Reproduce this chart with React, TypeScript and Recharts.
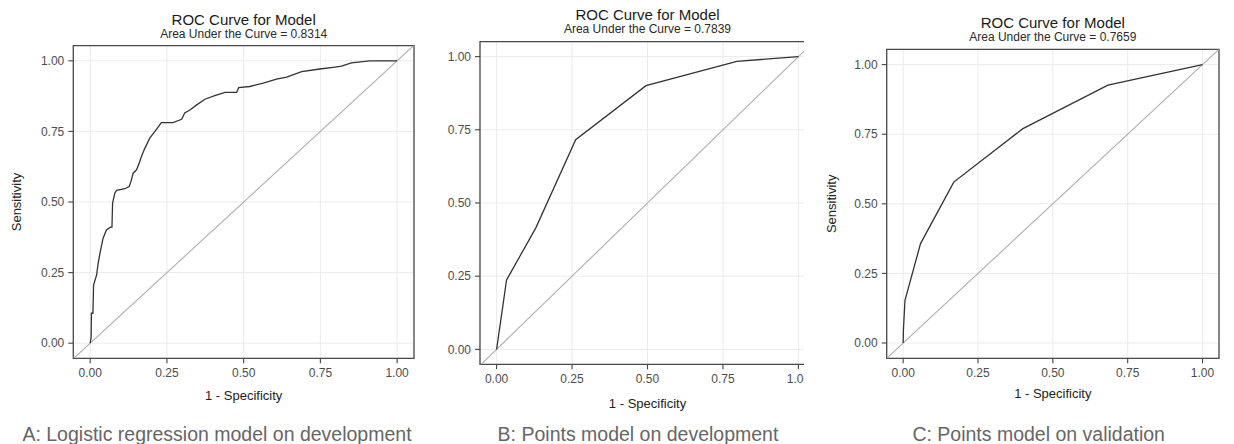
import React from 'react';
import { LineChart, Line, XAxis, YAxis, CartesianGrid, ReferenceLine, ReferenceArea } from 'recharts';

const FONT = '"Liberation Sans", Arial, Helvetica, sans-serif';

const axisTicks = [0, 0.25, 0.5, 0.75, 1];
const chartTitle = 'ROC Curve for Model';
const xAxisTitle = '1 - Specificity';
const yAxisTitle = 'Sensitivity';
const aucValues = ['0.8314', '0.7839', '0.7659'];
const captions = [
  'A: Logistic regression model on development',
  'B: Points model on development',
  'C: Points model on validation',
];

// Panel A: logistic regression model on development
const fprA = [0, 0.003, 0.004, 0.009, 0.011, 0.021, 0.026, 0.032, 0.042, 0.053, 0.066, 0.071, 0.073, 0.08, 0.086, 0.113, 0.127, 0.133, 0.14, 0.151, 0.16, 0.167, 0.178, 0.194, 0.211, 0.232, 0.27, 0.298, 0.308, 0.325, 0.347, 0.374, 0.406, 0.439, 0.477, 0.484, 0.52, 0.564, 0.607, 0.64, 0.689, 0.748, 0.792, 0.819, 0.851, 0.911, 1];
const tprA = [0, 0.02, 0.106, 0.106, 0.206, 0.242, 0.283, 0.319, 0.372, 0.401, 0.411, 0.411, 0.496, 0.531, 0.541, 0.547, 0.555, 0.573, 0.602, 0.614, 0.638, 0.661, 0.69, 0.726, 0.75, 0.781, 0.781, 0.793, 0.815, 0.826, 0.844, 0.864, 0.877, 0.888, 0.888, 0.905, 0.909, 0.921, 0.935, 0.942, 0.962, 0.971, 0.977, 0.981, 0.993, 1, 1];

// Panel B: points model on development
const fprB = [0, 0.033, 0.13, 0.262, 0.495, 0.796, 1];
const tprB = [0, 0.237, 0.415, 0.716, 0.901, 0.984, 1];

// Panel C: points model on validation
const fprC = [0, 0.001, 0.006, 0.058, 0.169, 0.4, 0.684, 1];
const tprC = [0, 0.05, 0.153, 0.357, 0.578, 0.77, 0.926, 1];

const toRows = (fpr: number[], tpr: number[]) => fpr.map((f, i) => ({ fpr: f, tpr: tpr[i] }));

const fmt = (v: number) => v.toFixed(2);

type PanelProps = {
  data: { fpr: number; tpr: number }[];
  width: number;
  height: number;
  margin: { top: number; right: number; bottom: number; left: number };
  xDomain: [number, number];
  yDomain: [number, number];
};

function RocPanel({ data, width, height, margin, xDomain, yDomain }: PanelProps) {
  const tickStyle = { fontSize: 12, fill: '#4d4d4d', fontFamily: FONT };
  return (
    <LineChart width={width} height={height} data={data} margin={margin}>
      <CartesianGrid stroke="#ebebeb" strokeWidth={1} />
      <XAxis
        type="number"
        dataKey="fpr"
        domain={xDomain}
        ticks={axisTicks}
        tickFormatter={fmt}
        allowDataOverflow
        interval={0}
        height={40}
        axisLine={false}
        tickLine={{ stroke: '#444', strokeWidth: 1.1 }}
        tickSize={5}
        tickMargin={5}
        tick={tickStyle}
      />
      <YAxis
        type="number"
        domain={yDomain}
        ticks={axisTicks}
        tickFormatter={fmt}
        allowDataOverflow
        interval={0}
        width={60}
        axisLine={false}
        tickLine={{ stroke: '#444', strokeWidth: 1.1 }}
        tickSize={5}
        tickMargin={4}
        tick={tickStyle}
      />
      <ReferenceLine
        segment={[{ x: -0.2, y: -0.2 }, { x: 1.2, y: 1.2 }]}
        stroke="#aeaeae"
        strokeWidth={1.1}
        ifOverflow="hidden"
      />
      <Line
        dataKey="tpr"
        type="linear"
        stroke="#333"
        strokeWidth={1.3}
        dot={false}
        activeDot={false}
        isAnimationActive={false}
      />
      <ReferenceArea
        x1={xDomain[0]}
        x2={xDomain[1]}
        y1={yDomain[0]}
        y2={yDomain[1]}
        fill="none"
        fillOpacity={0}
        stroke="#4a4a4a"
        strokeWidth={1.3}
        ifOverflow="visible"
      />
    </LineChart>
  );
}

export default function App() {
  const titleColor = '#1a1a1a';
  return (
    <div
      style={{
        position: 'fixed',
        left: 0,
        top: 0,
        width: 1234,
        height: 444,
        background: '#fff',
        overflow: 'hidden',
        fontFamily: FONT,
      }}
    >
      <div style={{ position: 'absolute', left: 0, top: 0 }}>
        <RocPanel
          data={toRows(fprA, tprA)}
          width={420}
          height={444}
          margin={{ top: 45.7, right: 6, bottom: 45.7, left: 13.3 }}
          xDomain={[-0.055, 1.055]}
          yDomain={[-0.0535, 1.0535]}
        />
      </div>
      <div style={{ position: 'absolute', left: 410, top: 0, width: 394, height: 444, overflow: 'hidden' }}>
        <RocPanel
          data={toRows(fprB, tprB)}
          width={420}
          height={444}
          margin={{ top: 41.7, right: 15, bottom: 39.7, left: 10 }}
          xDomain={[-0.055, 1.055]}
          yDomain={[-0.051, 1.051]}
        />
      </div>
      <div style={{ position: 'absolute', left: 820, top: 0 }}>
        <RocPanel
          data={toRows(fprC, tprC)}
          width={414}
          height={444}
          margin={{ top: 49.3, right: 15, bottom: 45.7, left: 6.7 }}
          xDomain={[-0.055, 1.055]}
          yDomain={[-0.055, 1.055]}
        />
      </div>
      <svg
        width={1234}
        height={444}
        style={{ position: 'absolute', left: 0, top: 0, pointerEvents: 'none' }}
        fontFamily={FONT}
      >
        {/* Panel A */}
        <text x={243.7} y={19.5} textAnchor="middle" dominantBaseline="central" fontSize={15} fill={titleColor}>{chartTitle}</text>
        <text x={243.7} y={34} textAnchor="middle" dominantBaseline="central" fontSize={12} fill="#2a2a2a">{`Area Under the Curve = ${aucValues[0]}`}</text>
        <text x={243.7} y={395} textAnchor="middle" dominantBaseline="central" fontSize={13} fill="#222">{xAxisTitle}</text>
        <text x={16.7} y={202} textAnchor="middle" dominantBaseline="central" fontSize={13} fill="#222" transform="rotate(-90 16.7 202)">{yAxisTitle}</text>
        <text x={217} y={441} textAnchor="middle" fontSize={19.5} fill="#666">{captions[0]}</text>

        {/* Panel B */}
        <text x={647.5} y={14} textAnchor="middle" dominantBaseline="central" fontSize={15} fill={titleColor}>{chartTitle}</text>
        <text x={647.5} y={29} textAnchor="middle" dominantBaseline="central" fontSize={12} fill="#2a2a2a">{`Area Under the Curve = ${aucValues[1]}`}</text>
        <text x={647.5} y={403} textAnchor="middle" dominantBaseline="central" fontSize={13} fill="#222">{xAxisTitle}</text>
        <text x={638} y={441} textAnchor="middle" fontSize={19.5} fill="#666">{captions[1]}</text>

        {/* Panel C */}
        <text x={1052.8} y={22.5} textAnchor="middle" dominantBaseline="central" fontSize={15} fill={titleColor}>{chartTitle}</text>
        <text x={1052.8} y={37} textAnchor="middle" dominantBaseline="central" fontSize={12} fill="#2a2a2a">{`Area Under the Curve = ${aucValues[2]}`}</text>
        <text x={1052.8} y={393.5} textAnchor="middle" dominantBaseline="central" fontSize={13} fill="#222">{xAxisTitle}</text>
        <text x={831.7} y={203.8} textAnchor="middle" dominantBaseline="central" fontSize={13} fill="#222" transform="rotate(-90 831.7 203.8)">{yAxisTitle}</text>
        <text x={1038.7} y={441} textAnchor="middle" fontSize={19.5} fill="#666">{captions[2]}</text>
      </svg>
    </div>
  );
}
